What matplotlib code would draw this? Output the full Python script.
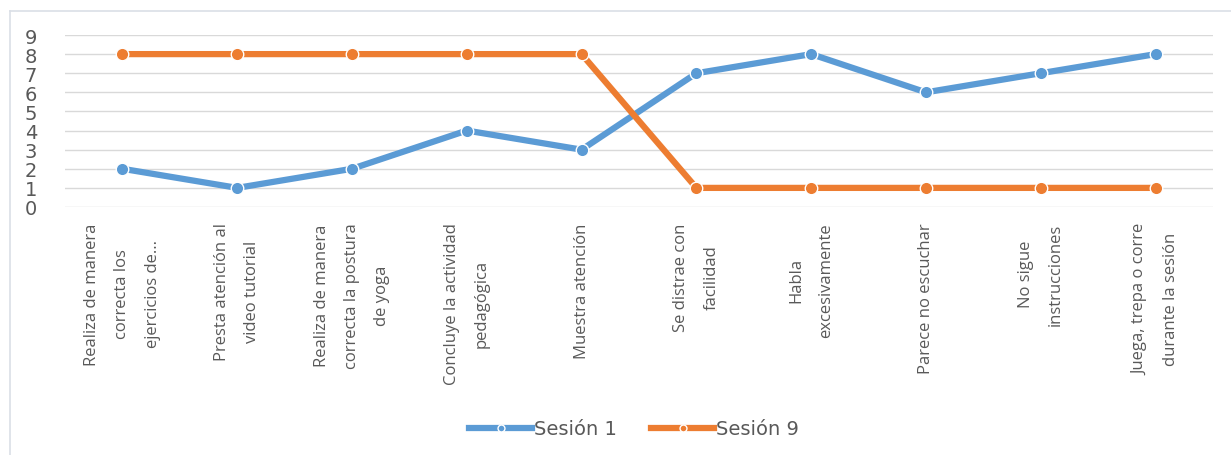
import matplotlib
matplotlib.use("Agg")
import matplotlib.pyplot as plt
from matplotlib.lines import Line2D

categories = [
    "Realiza de manera\ncorrecta los\nejercicios de...",
    "Presta atención al\nvideo tutorial",
    "Realiza de manera\ncorrecta la postura\nde yoga",
    "Concluye la actividad\npedagógica",
    "Muestra atención",
    "Se distrae con\nfacilidad",
    "Habla\nexcesivamente",
    "Parece no escuchar",
    "No sigue\ninstrucciones",
    "Juega, trepa o corre\ndurante la sesión",
]
sesion_1 = [2, 1, 2, 4, 3, 7, 8, 6, 7, 8]
sesion_9 = [8, 8, 8, 8, 8, 1, 1, 1, 1, 1]
y_ticks = list(range(0, 10))

W, H = 1231, 456
fig = plt.figure(figsize=(W / 100, H / 100), dpi=100)
plt.rcParams['font.family'] = ['Open Sans', 'DejaVu Sans']

# chart frame: only the top and left edges are inside the crop
fig.lines.append(Line2D([10 / W, 1.0], [1 - 12 / H, 1 - 12 / H], transform=fig.transFigure,
                        color="#dadfe6", linewidth=1.2))
fig.lines.append(Line2D([10 / W, 10 / W], [0, 1 - 12 / H], transform=fig.transFigure,
                        color="#dadfe6", linewidth=1.2))

ax = fig.add_axes([65 / W, (H - 208) / H, (1213 - 65) / W, (208 - 36) / H])
x = list(range(len(categories)))

ax.plot(x, sesion_1, color="#5b9bd5", linewidth=4.5, marker="o", markersize=9,
        markeredgecolor="white", markeredgewidth=1, label="Sesión 1", zorder=3)
ax.plot(x, sesion_9, color="#ed7d31", linewidth=4.5, marker="o", markersize=9,
        markeredgecolor="white", markeredgewidth=1, label="Sesión 9", zorder=3)

ax.set_xlim(-0.5, len(categories) - 0.5)
ax.set_ylim(0, 9)
ax.set_yticks(y_ticks)
ax.set_yticklabels([str(v) for v in y_ticks], fontsize=14, color="#595959",
                   family=['DejaVu Sans'])
ax.set_xticks([])
for s in ax.spines.values():
    s.set_visible(False)
ax.grid(True, axis='y', color="#d9d9d9", linewidth=1)
ax.set_axisbelow(True)
ax.tick_params(axis='y', length=0, pad=20)

for xi, lab in zip(x, categories):
    ax.annotate(lab, xy=(xi, 0), xycoords="data", xytext=(0, -11), textcoords="offset points",
                rotation=90, ha="center", va="top", multialignment="center",
                fontsize=12, color="#595959", linespacing=2.2)

leg = fig.legend(loc="center", bbox_to_anchor=(0.515, (H - 430) / H), ncol=2, frameon=False,
                 handlelength=3.2, columnspacing=1.8, handletextpad=0.1,
                 prop={'family': ['DejaVu Sans'], 'size': 14})
for t in leg.get_texts():
    t.set_color("#595959")
for h in leg.legend_handles:
    h.set_markersize(5)

fig.savefig("out.png", dpi=100)
